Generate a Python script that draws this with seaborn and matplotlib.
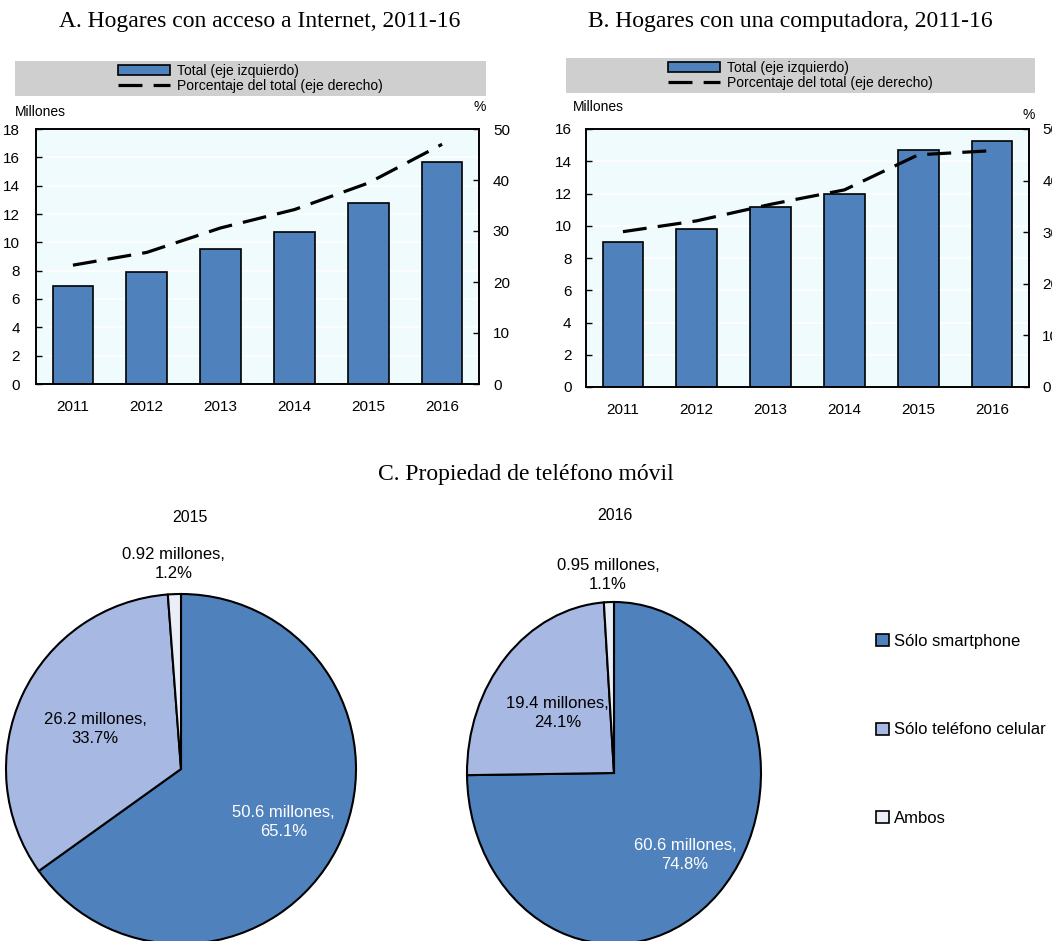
import numpy as np
import matplotlib.pyplot as plt
import seaborn as sns
from matplotlib.patches import Patch, Rectangle
from matplotlib.lines import Line2D
from matplotlib.ticker import MultipleLocator

# datos
years = ['2011', '2012', '2013', '2014', '2015', '2016']
internet_mill = [6.93, 7.9, 9.55, 10.75, 12.75, 15.68]
internet_pct = [23.3, 25.8, 30.6, 34.2, 39.4, 47.0]
compu_mill = [9.02, 9.79, 11.15, 12.0, 14.72, 15.28]
compu_pct = [30.1, 32.2, 35.4, 38.2, 45.0, 45.8]

pie_years = ['2015', '2016']
segmentos = ['Sólo smartphone', 'Sólo teléfono celular', 'Ambos']
smart_mill = [50.6, 60.6]
smart_pct = [65.1, 74.8]
celular_mill = [26.2, 19.4]
celular_pct = [33.7, 24.1]
ambos_mill = [0.92, 0.95]
ambos_pct = [1.2, 1.1]

AZUL = '#4F81BD'
LILA = '#A7B9E3'
CLARO = '#E9EEF7'
FONDO = '#F0FBFE'
GRIS = '#CFCFCF'

sns.set_style('white')
plt.rcParams['font.family'] = ['Liberation Sans', 'DejaVu Sans']
plt.rcParams['text.color'] = 'black'
plt.rcParams['axes.labelcolor'] = 'black'
plt.rcParams['xtick.color'] = 'black'
plt.rcParams['ytick.color'] = 'black'
SERIF = ['Liberation Serif', 'DejaVu Serif']

W, H = 1052, 941
fig = plt.figure(figsize=(W / 100, H / 100), dpi=100)


def px_box(l, t, r, b):
    return [l / W, 1 - b / H, (r - l) / W, (b - t) / H]


def fx(x):
    return x / W


def fy(y):
    return 1 - y / H


def panel_barras(box, vals, pcts, ymax, leg_box, mill_xy, pct_xy, lpad, rpad):
    ax = fig.add_axes(px_box(*box))
    ax.set_facecolor(FONDO)
    sns.barplot(x=years, y=vals, ax=ax, color=AZUL, saturation=1,
                edgecolor='black', linewidth=1.2, width=0.55)
    ax.set_xlim(-0.5, len(years) - 0.5)
    ax.set_ylim(0, ymax)
    ax.yaxis.set_major_locator(MultipleLocator(2))
    ax.grid(axis='y', color='white', lw=1.2)
    ax.set_axisbelow(True)
    ax.set_xlabel('')
    ax.set_ylabel('')
    ax.set_xticks(np.arange(len(years) - 1) + 0.5, minor=True)
    ax.tick_params(axis='x', which='major', length=0, pad=11.5, labelsize=11)
    ax.tick_params(axis='x', which='minor', direction='in', length=4, width=1)
    ax.tick_params(axis='y', direction='in', length=4, width=1, pad=lpad, labelsize=11)
    for s in ax.spines.values():
        s.set_color('black')
        s.set_linewidth(1.2)

    ax2 = ax.twinx()
    sns.lineplot(x=np.arange(len(years)), y=pcts, ax=ax2, color='black', lw=2.3)
    ax2.lines[0].set_dashes((7.5, 3.5))
    ax2.set_ylim(0, 50)
    ax2.yaxis.set_major_locator(MultipleLocator(10))
    ax2.tick_params(axis='y', direction='in', length=4, width=1, pad=rpad, labelsize=11)
    ax2.set_ylabel('')
    ax2.set_xlabel('')
    for s in ax2.spines.values():
        s.set_color('black')
        s.set_linewidth(1.2)

    # leyenda en caja gris
    l, t, r, b = leg_box
    fig.patches.append(Rectangle((fx(l), fy(b)), (r - l) / W, (b - t) / H,
                                 transform=fig.transFigure, facecolor=GRIS,
                                 edgecolor='none', zorder=0))
    handles = [Patch(facecolor=AZUL, edgecolor='black', lw=1.2),
               Line2D([], [], color='black', lw=2.3, dashes=(7.5, 3.5))]
    fig.legend(handles, ['Total (eje izquierdo)', 'Porcentaje del total (eje derecho)'],
               loc='center', bbox_to_anchor=(fx((l + r) / 2), fy((t + b) / 2)),
               frameon=False, fontsize=10, handlelength=3.7, handleheight=0.7,
               handletextpad=0.5, labelspacing=0.1, borderpad=0)
    fig.text(fx(mill_xy[0]), fy(mill_xy[1]), 'Millones', fontsize=10,
             ha='left', va='center')
    fig.text(fx(pct_xy[0]), fy(pct_xy[1]), '%', fontsize=10,
             ha='center', va='center')
    return ax


# Panel A
fig.text(fx(260), fy(22), 'A. Hogares con acceso a Internet, 2011-16',
         family=SERIF, fontsize=17, ha='center', va='center')
panel_barras((36, 129, 479, 384), internet_mill, internet_pct, 18,
             (15, 61, 486, 96), (15, 112), (480, 107), 11.5, 10)

# Panel B
fig.text(fx(790), fy(22), 'B. Hogares con una computadora, 2011-16',
         family=SERIF, fontsize=17, ha='center', va='center')
panel_barras((586, 129, 1029, 387), compu_mill, compu_pct, 16,
             (566, 58, 1035, 93), (573, 107), (1029, 115), 10.5, 9.5)

# Panel C
fig.text(fx(526), fy(474), 'C. Propiedad de teléfono móvil',
         family=SERIF, fontsize=17, ha='center', va='center')

pie_specs = [
    # centro x, centro y, radio x, radio y, distancias de etiqueta, titulo y
    (181, 769, 175, 175, [0.66, 0.54, 1.17], 517),
    (614, 773, 147, 171, [0.68, 0.52, 1.16], 515),
]
colores = [AZUL, LILA, CLARO]
for i, (cx, cy, rx, ry, dists, ty) in enumerate(pie_specs):
    k = 1.02
    ax = fig.add_axes(px_box(cx - rx * k, cy - ry * k, cx + rx * k, cy + ry * k))
    sizes = [smart_pct[i], celular_pct[i], ambos_pct[i]]
    mills = [smart_mill[i], celular_mill[i], ambos_mill[i]]
    wedges, _ = ax.pie(sizes, colors=colores, startangle=90, counterclock=False,
                       wedgeprops=dict(edgecolor='black', linewidth=1.5))
    ax.set_aspect('auto')
    ax.set_xlim(-k, k)
    ax.set_ylim(-k, k)
    ax.axis('off')
    for j, w in enumerate(wedges):
        ang = np.deg2rad((w.theta1 + w.theta2) / 2)
        d = dists[j]
        ax.text(d * np.cos(ang), d * np.sin(ang),
                f'{mills[j]:g} millones,\n{sizes[j]:.1f}%',
                ha='center', va='center', fontsize=12, linespacing=1.35,
                color='white' if j == 0 else 'black', clip_on=False)
    fig.text(fx(cx + 9 if i == 0 else cx + 1), fy(ty), pie_years[i],
             fontsize=11.5, ha='center', va='center')

leg_handles = [Patch(facecolor=c, edgecolor='black', lw=1.2) for c in colores]
fig.legend(leg_handles, segmentos, loc='center left',
           bbox_to_anchor=(fx(876), fy(730)), frameon=False, fontsize=12,
           handlelength=0.75, handleheight=0.75, handletextpad=0.3,
           labelspacing=4.4, borderpad=0, borderaxespad=0)

fig.savefig('out.png', dpi=100)
